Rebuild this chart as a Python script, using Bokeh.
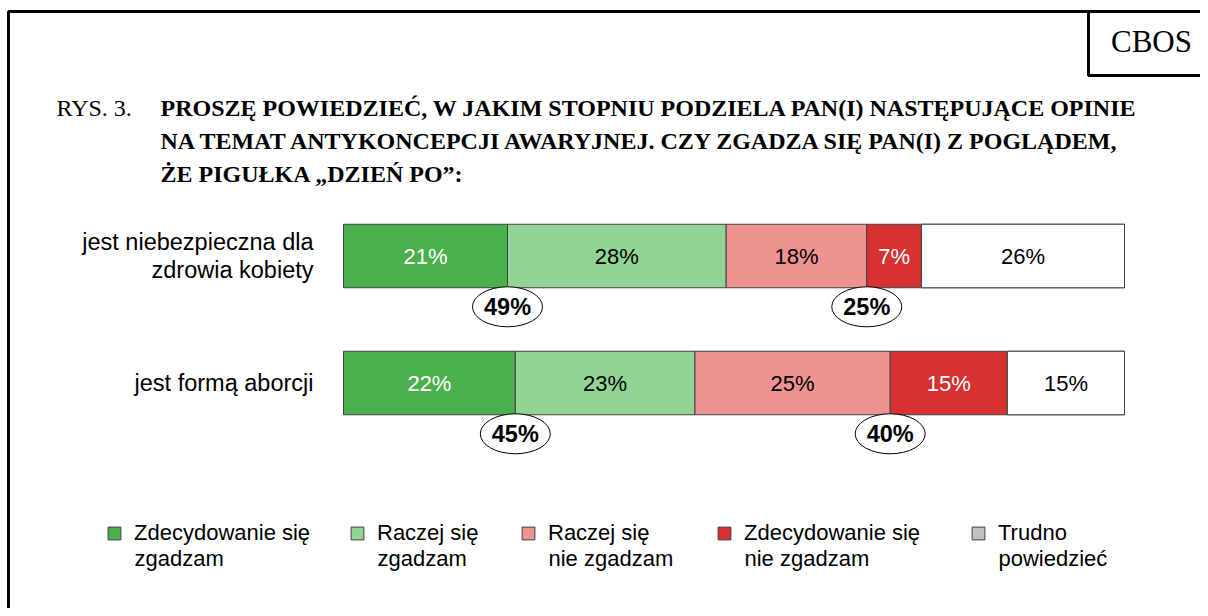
import numpy as np
from bokeh.plotting import figure
from bokeh.models import Range1d, Label, BoxAnnotation, Legend, LegendItem
from bokeh.embed import file_html
from bokeh.resources import INLINE
from bokeh.core.properties import value

# ---------------- data ----------------
categories = ["jest niebezpieczna dla\nzdrowia kobiety", "jest formą aborcji"]
series_labels = [("Zdecydowanie się", "zgadzam"), ("Raczej się", "zgadzam"),
                 ("Raczej się", "nie zgadzam"), ("Zdecydowanie się", "nie zgadzam"),
                 ("Trudno", "powiedzieć")]
zdecydowanie_zgadzam = [21, 22]
raczej_zgadzam = [28, 23]
raczej_nie_zgadzam = [18, 25]
zdecydowanie_nie_zgadzam = [7, 15]
trudno_powiedziec = [26, 15]
suma_zgadzam = [49, 45]
suma_nie_zgadzam = [25, 40]

bar_colors = ["#4CAF4E", "#91D595", "#EE9391", "#D63232", "#FFFFFF"]
legend_colors = ["#4CAF4E", "#91D595", "#EE9391", "#D63232", "#C0C0C0"]
text_colors = ["white", "black", "black", "white", "black"]

title_prefix = "RYS. 3."
title_lines = ["PROSZĘ POWIEDZIEĆ, W JAKIM STOPNIU PODZIELA PAN(I) NASTĘPUJĄCE OPINIE",
               "NA TEMAT ANTYKONCEPCJI AWARYJNEJ. CZY ZGADZA SIĘ PAN(I) Z POGLĄDEM,",
               "ŻE PIGUŁKA „DZIEŃ PO”:"]
source_label = "CBOS"

# ---------------- layout ----------------
W, H = 1200, 608
bar_left_px, px_per_pct = 343.0, 7.81
row0_px, row_px = 255.5, 127.0
x_start = -bar_left_px / px_per_pct
x_end = x_start + W / px_per_pct
y_top = -row0_px / row_px
y_bottom = y_top + H / row_px

p = figure(width=W, height=H, x_range=Range1d(x_start, x_end), y_range=Range1d(y_bottom, y_top),
           output_backend="svg", toolbar_location=None, min_border=0,
           x_axis_location=None, y_axis_location=None, outline_line_color=None)
p.grid.visible = False

rows = np.arange(len(categories))
series = np.array([zdecydowanie_zgadzam, raczej_zgadzam, raczej_nie_zgadzam,
                   zdecydowanie_nie_zgadzam, trudno_powiedziec], dtype=float)
rights = np.cumsum(series, axis=0)
lefts = rights - series
bar_h = 0.5

ARIAL = value("Liberation Sans")

bar_renderers = []
for i in range(len(series)):
    swatch = None
    if legend_colors[i] != bar_colors[i]:
        # legend swatch renderer, fully covered by the bar drawn on top of it
        swatch = p.hbar(y=rows, left=lefts[i], right=rights[i], height=bar_h,
                        fill_color=legend_colors[i], line_color="#404040", line_width=1)
    r = p.hbar(y=rows, left=lefts[i], right=rights[i], height=bar_h,
               fill_color=bar_colors[i], line_color="#404040", line_width=1)
    bar_renderers.append(swatch if swatch is not None else r)
    p.text(x=(lefts[i] + rights[i]) / 2, y=rows, text=[f"{int(v)}%" for v in series[i]],
           text_color=text_colors[i], text_align="center", text_baseline="middle",
           text_font=ARIAL, text_font_size="22px")

# category labels
p.text(x=np.zeros(len(rows)), y=rows, text=categories, x_offset=-30,
       text_align="right", text_baseline="middle", text_font=ARIAL,
       text_font_size="23.5px", text_line_height=1.1, text_color="black")

# total ellipses
ell_y = rows + bar_h / 2 + 0.15
for xs, tot in [(lefts[1], suma_zgadzam), (lefts[3], suma_nie_zgadzam)]:
    p.ellipse(x=xs, y=ell_y, width=70, height=40, width_units="screen", height_units="screen",
              fill_color="white", line_color="black", line_width=1)
    p.text(x=xs, y=ell_y, text=[f"{v}%" for v in tot], text_align="center",
           text_baseline="middle", text_font=ARIAL, text_font_size="23.5px",
           text_font_style="bold", text_color="black")

# title
p.add_layout(Label(x=56, y=501, x_units="screen", y_units="screen", text=title_prefix,
                   text_font="Liberation Serif", text_font_size="24px", text_color="black",
                   text_baseline="alphabetic"))
for k, line in enumerate(title_lines):
    p.add_layout(Label(x=160, y=501 - 33 * k, x_units="screen", y_units="screen", text=line,
                       text_font="Liberation Serif", text_font_size="24px", text_color="black",
                       text_font_style="bold", text_baseline="alphabetic"))

# frame and source box
p.add_layout(BoxAnnotation(left=8, right=1230, top=597, bottom=-30,
                           left_units="screen", right_units="screen",
                           top_units="screen", bottom_units="screen",
                           fill_alpha=0, line_color="black", line_alpha=1, line_width=3))
p.add_layout(BoxAnnotation(left=1088, right=1230, top=597, bottom=533,
                           left_units="screen", right_units="screen",
                           top_units="screen", bottom_units="screen",
                           fill_alpha=0, line_color="black", line_alpha=1, line_width=3))
p.add_layout(Label(x=1151, y=567, x_units="screen", y_units="screen", text=source_label,
                   text_font="Liberation Serif", text_font_size="31px", text_align="center",
                   text_color="black", text_baseline="alphabetic"))

# legend: swatch + first line from Legend, second line as Label
legend_x = [106, 349, 520, 716, 970]
for i in range(len(series_labels)):
    first, second = series_labels[i]
    lg = Legend(items=[LegendItem(label=first, renderers=[bar_renderers[i]])],
                location=(legend_x[i], 62), padding=0, margin=0, border_line_color=None,
                background_fill_alpha=0, glyph_width=16, glyph_height=16, label_standoff=12,
                label_text_font="Liberation Sans", label_text_font_size="22px",
                label_text_color="black")
    p.add_layout(lg)
    p.add_layout(Label(x=legend_x[i] + 28, y=50, x_units="screen", y_units="screen",
                       text=second, text_font="Liberation Sans", text_font_size="22px",
                       text_color="black", text_baseline="middle"))

open("out.html", "w").write(file_html(p, INLINE))
